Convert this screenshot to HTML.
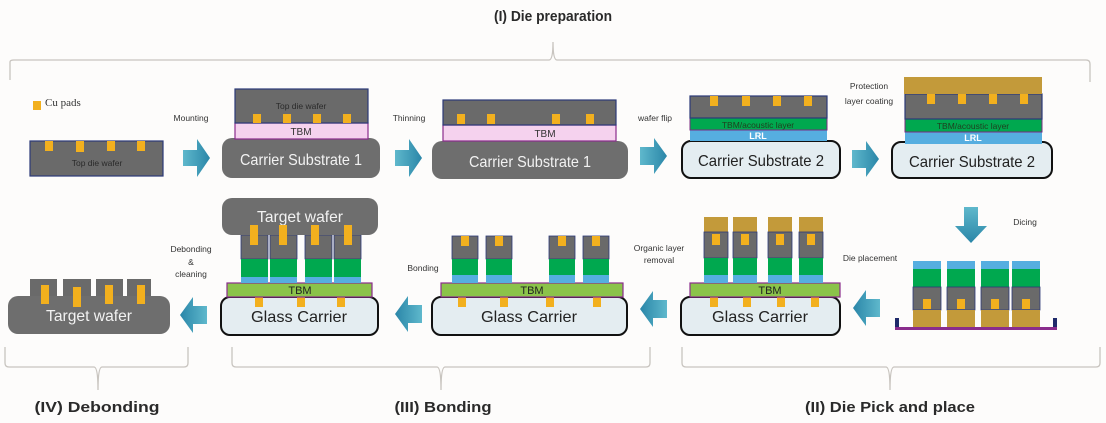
<!DOCTYPE html>
<html><head><meta charset="utf-8"><style>
html,body{margin:0;padding:0;background:#fdfcfb;}
svg{display:block;font-family:"Liberation Sans",sans-serif;}
</style></head><body>
<svg width="1106" height="423" viewBox="0 0 1106 423" xmlns="http://www.w3.org/2000/svg">
<defs>
<linearGradient id="ar" x1="0" y1="0" x2="1" y2="0"><stop offset="0" stop-color="#5fb8cc"/><stop offset="1" stop-color="#2a86a8"/></linearGradient>
<linearGradient id="al" x1="1" y1="0" x2="0" y2="0"><stop offset="0" stop-color="#5fb8cc"/><stop offset="1" stop-color="#2a86a8"/></linearGradient>
<linearGradient id="ad" x1="0" y1="0" x2="0" y2="1"><stop offset="0" stop-color="#5fb8cc"/><stop offset="1" stop-color="#2a86a8"/></linearGradient>
</defs>
<rect width="1106" height="423" fill="#fdfcfb"/>
<g fill="none" stroke="#c8c4bf" stroke-width="1.3">
<path d="M10 80 V62 Q10 60 14 60 H549 Q553 60 553 42 Q553 60 557 60 H1086 Q1090 60 1090 64 V82"/>
<path d="M5 347 V363 Q5 367 9 367 H94 Q98 367 98 390 Q98 367 102 367 H184 Q188 367 188 363 V347"/>
<path d="M232 347 V363 Q232 367 236 367 H437 Q441 367 441 390 Q441 367 445 367 H646 Q650 367 650 363 V347"/>
<path d="M682 347 V363 Q682 367 686 367 H886 Q890 367 890 390 Q890 367 894 367 H1096 Q1100 367 1100 363 V347"/>
</g>
<g font-weight="bold" font-size="15" fill="#2a2a2a" text-anchor="middle">
<text x="553" y="21" textLength="118" lengthAdjust="spacingAndGlyphs">(I) Die preparation</text>
<text x="97" y="412" textLength="125" lengthAdjust="spacingAndGlyphs">(IV) Debonding</text>
<text x="443" y="412" textLength="97" lengthAdjust="spacingAndGlyphs">(III) Bonding</text>
<text x="890" y="412" textLength="170" lengthAdjust="spacingAndGlyphs">(II) Die Pick and place</text>
</g>
<g>
<path d="M183 150 h14 v-11 l13 19 l-13 19 v-11 h-14 z" fill="url(#ar)"/>
<path d="M395 150 h14 v-11 l13 19 l-13 19 v-11 h-14 z" fill="url(#ar)"/>
<path d="M640 147 h14 v-9 l13 18 l-13 18 v-9 h-14 z" fill="url(#ar)"/>
<path d="M852 150 h14 v-9 l13 18 l-13 18 v-9 h-14 z" fill="url(#ar)"/>
<path d="M964 207 h14 v19 h9 l-16 17 l-16 -17 h9 z" fill="url(#ad)"/>
<path d="M880 299 h-14 v-9 l-13 18 l13 18 v-9 h14 z" fill="url(#al)"/>
<path d="M667 300 h-14 v-9 l-13 18 l13 18 v-9 h14 z" fill="url(#al)"/>
<path d="M422 305 h-14 v-9 l-13 18 l13 18 v-9 h14 z" fill="url(#al)"/>
<path d="M207 306 h-14 v-9 l-13 18 l13 18 v-9 h14 z" fill="url(#al)"/>
</g>
<g font-size="8.5" fill="#333" text-anchor="middle">
<text x="191" y="121">Mounting</text>
<text x="409" y="121">Thinning</text>
<text x="655" y="121">wafer flip</text>
<text x="869" y="89">Protection</text>
<text x="869" y="104">layer coating</text>
<text x="1025" y="225">Dicing</text>
<text x="870" y="261">Die placement</text>
<text x="659" y="251">Organic layer</text>
<text x="659" y="263">removal</text>
<text x="423" y="271">Bonding</text>
<text x="191" y="252">Debonding</text>
<text x="191" y="265">&amp;</text>
<text x="191" y="277">cleaning</text>
</g>
<rect x="33" y="101" width="8" height="9" fill="#f2b01e"/>
<text x="45" y="106" font-family="Liberation Serif,serif" font-size="11" fill="#333">Cu pads</text>
<!-- Stack 1 -->
<rect x="30" y="141" width="133" height="35" fill="#6a6a6a" stroke="#2c3a78" stroke-width="1.2"/>
<g fill="#f2b01e"><rect x="45" y="141" width="8" height="10"/><rect x="76" y="141" width="8" height="11"/><rect x="107" y="141" width="8" height="10"/><rect x="137" y="141" width="8" height="10"/></g>
<text x="97" y="166" font-size="8.5" fill="#2a2a2a" text-anchor="middle">Top die wafer</text>
<!-- Stack 2 -->
<rect x="222" y="138" width="158" height="40" rx="10" fill="#6e6e6e"/>
<text x="301" y="165" font-size="16" fill="#f2f2f2" text-anchor="middle" textLength="122" lengthAdjust="spacingAndGlyphs">Carrier Substrate 1</text>
<rect x="235" y="123" width="133" height="16" fill="#f5d2ee" stroke="#8a2c8c" stroke-width="1.2"/>
<text x="301" y="135" font-size="10" fill="#333" text-anchor="middle">TBM</text>
<rect x="235" y="89" width="133" height="34" fill="#6a6a6a" stroke="#2c3a78" stroke-width="1.2"/>
<g fill="#f2b01e"><rect x="253" y="114" width="8" height="9"/><rect x="283" y="114" width="8" height="9"/><rect x="313" y="114" width="8" height="9"/><rect x="343" y="114" width="8" height="9"/></g>
<text x="301" y="109" font-size="8.5" fill="#2a2a2a" text-anchor="middle">Top die wafer</text>
<!-- Stack 3 -->
<rect x="432" y="141" width="196" height="38" rx="10" fill="#6e6e6e"/>
<text x="530" y="167" font-size="16" fill="#f2f2f2" text-anchor="middle" textLength="122" lengthAdjust="spacingAndGlyphs">Carrier Substrate 1</text>
<rect x="443" y="125" width="173" height="16" fill="#f5d2ee" stroke="#8a2c8c" stroke-width="1.2"/>
<text x="545" y="137" font-size="10" fill="#333" text-anchor="middle">TBM</text>
<rect x="443" y="100" width="173" height="25" fill="#6a6a6a" stroke="#2c3a78" stroke-width="1.2"/>
<g fill="#f2b01e"><rect x="457" y="114" width="8" height="10"/><rect x="487" y="114" width="8" height="10"/><rect x="552" y="114" width="8" height="10"/><rect x="586" y="114" width="8" height="10"/></g>
<!-- Stack 4 -->
<rect x="682" y="141" width="158" height="37" rx="9" fill="#e4edf1" stroke="#111" stroke-width="2"/>
<text x="761" y="166" font-size="16" fill="#222" text-anchor="middle" textLength="126" lengthAdjust="spacingAndGlyphs">Carrier Substrate 2</text>
<rect x="690" y="130" width="137" height="11" fill="#56aee0"/>
<text x="758" y="139" font-size="9" font-weight="bold" fill="#fff" text-anchor="middle">LRL</text>
<rect x="690" y="118" width="137" height="12" fill="#00a84f" stroke="#7a2c82" stroke-width="1"/>
<text x="758" y="128" font-size="8.5" fill="#1f3f1f" text-anchor="middle">TBM/acoustic layer</text>
<rect x="690" y="96" width="137" height="22" fill="#6a6a6a" stroke="#2c3a78" stroke-width="1.2"/>
<g fill="#f2b01e"><rect x="710" y="96" width="8" height="10"/><rect x="742" y="96" width="8" height="10"/><rect x="773" y="96" width="8" height="10"/><rect x="804" y="96" width="8" height="10"/></g>
<!-- Stack 5 -->
<rect x="892" y="142" width="160" height="36" rx="9" fill="#e4edf1" stroke="#111" stroke-width="2"/>
<text x="972" y="167" font-size="16" fill="#222" text-anchor="middle" textLength="126" lengthAdjust="spacingAndGlyphs">Carrier Substrate 2</text>
<rect x="905" y="132" width="137" height="12" fill="#56aee0"/>
<text x="973" y="141" font-size="9" font-weight="bold" fill="#fff" text-anchor="middle">LRL</text>
<rect x="905" y="119" width="137" height="13" fill="#00a84f" stroke="#7a2c82" stroke-width="1"/>
<text x="973" y="129" font-size="8.5" fill="#1f3f1f" text-anchor="middle">TBM/acoustic layer</text>
<rect x="905" y="94" width="137" height="25" fill="#6a6a6a" stroke="#2c3a78" stroke-width="1.2"/>
<rect x="904" y="77" width="138" height="17" fill="#c39a3a"/>
<g fill="#f2b01e"><rect x="927" y="94" width="8" height="10"/><rect x="958" y="94" width="8" height="10"/><rect x="989" y="94" width="8" height="10"/><rect x="1020" y="94" width="8" height="10"/></g>
<!-- Diced dies -->
<rect x="895" y="318" width="4" height="12" fill="#1f2a6a"/>
<rect x="1053" y="318" width="4" height="12" fill="#1f2a6a"/>
<rect x="895" y="327" width="162" height="3" fill="#8a2c8c"/>
<g id="dc">
<rect x="913" y="261" width="28" height="8" fill="#56aee0"/>
<rect x="913" y="269" width="28" height="18" fill="#00a84f"/>
<rect x="913" y="287" width="28" height="23" fill="#6a6a6a" stroke="#2c3a78" stroke-width="0.8"/>
<rect x="913" y="310" width="28" height="17" fill="#c39a3a"/>
<rect x="923" y="299" width="8" height="10" fill="#f2b01e"/>
</g>
<use href="#dc" x="34"/><use href="#dc" x="68"/><use href="#dc" x="99"/>
<!-- Row2 stack A -->
<rect x="681" y="297" width="159" height="38" rx="9" fill="#e4edf1" stroke="#111" stroke-width="2"/>
<text x="760" y="322" font-size="16" fill="#222" text-anchor="middle" textLength="96" lengthAdjust="spacingAndGlyphs">Glass Carrier</text>
<g fill="#f2b01e"><rect x="710" y="297" width="8" height="10"/><rect x="743" y="297" width="8" height="10"/><rect x="777" y="297" width="8" height="10"/><rect x="811" y="297" width="8" height="10"/></g>
<rect x="690" y="283" width="150" height="14" fill="#8bc34a" stroke="#8a2c8c" stroke-width="1.2"/>
<text x="770" y="294" font-size="11" fill="#222" text-anchor="middle">TBM</text>
<g id="da">
<rect x="704" y="217" width="24" height="15" fill="#c39a3a"/>
<rect x="704" y="232" width="24" height="26" fill="#6a6a6a" stroke="#2c3a78" stroke-width="0.8"/>
<rect x="712" y="234" width="8" height="11" fill="#f2b01e"/>
<rect x="704" y="258" width="24" height="17" fill="#00a84f"/>
<rect x="704" y="275" width="24" height="8" fill="#56aee0"/>
</g>
<use href="#da" x="29"/><use href="#da" x="64"/><use href="#da" x="95"/>
<!-- Row2 stack B -->
<rect x="432" y="297" width="195" height="38" rx="9" fill="#e4edf1" stroke="#111" stroke-width="2"/>
<text x="529" y="322" font-size="16" fill="#222" text-anchor="middle" textLength="96" lengthAdjust="spacingAndGlyphs">Glass Carrier</text>
<g fill="#f2b01e"><rect x="458" y="297" width="8" height="10"/><rect x="500" y="297" width="8" height="10"/><rect x="546" y="297" width="8" height="10"/><rect x="593" y="297" width="8" height="10"/></g>
<rect x="441" y="283" width="182" height="14" fill="#8bc34a" stroke="#8a2c8c" stroke-width="1.2"/>
<text x="532" y="294" font-size="11" fill="#222" text-anchor="middle">TBM</text>
<g id="db">
<rect x="452" y="236" width="26" height="23" fill="#6a6a6a" stroke="#2c3a78" stroke-width="0.8"/>
<rect x="461" y="236" width="8" height="10" fill="#f2b01e"/>
<rect x="452" y="259" width="26" height="16" fill="#00a84f"/>
<rect x="452" y="275" width="26" height="8" fill="#56aee0"/>
</g>
<use href="#db" x="34"/><use href="#db" x="97"/><use href="#db" x="131"/>
<!-- Row2 stack C -->
<rect x="221" y="297" width="157" height="38" rx="9" fill="#e4edf1" stroke="#111" stroke-width="2"/>
<text x="299" y="322" font-size="16" fill="#222" text-anchor="middle" textLength="96" lengthAdjust="spacingAndGlyphs">Glass Carrier</text>
<g fill="#f2b01e"><rect x="255" y="297" width="8" height="10"/><rect x="297" y="297" width="8" height="10"/><rect x="337" y="297" width="8" height="10"/></g>
<rect x="227" y="283" width="145" height="14" fill="#8bc34a" stroke="#8a2c8c" stroke-width="1.2"/>
<text x="300" y="294" font-size="11" fill="#222" text-anchor="middle">TBM</text>
<g id="dd">
<rect x="241" y="235" width="27" height="24" fill="#6a6a6a" stroke="#2c3a78" stroke-width="0.8"/>
<rect x="241" y="259" width="27" height="18" fill="#00a84f"/>
<rect x="241" y="277" width="27" height="6" fill="#56aee0"/>
</g>
<use href="#dd" x="29"/><use href="#dd" x="64"/><use href="#dd" x="93"/>
<rect x="222" y="198" width="156" height="37" rx="10" fill="#6e6e6e"/>
<text x="300" y="222" font-size="16" fill="#f2f2f2" text-anchor="middle" textLength="86" lengthAdjust="spacingAndGlyphs">Target wafer</text>
<g fill="#f2b01e"><rect x="250" y="225" width="8" height="20"/><rect x="279" y="225" width="8" height="20"/><rect x="311" y="225" width="8" height="20"/><rect x="344" y="225" width="8" height="20"/></g>
<!-- Row2 final -->
<g fill="#6a6a6a"><rect x="30" y="279" width="27" height="18"/><rect x="63" y="279" width="28" height="18"/><rect x="96" y="279" width="27" height="18"/><rect x="127" y="279" width="24" height="18"/></g>
<rect x="8" y="296" width="162" height="38" rx="10" fill="#6e6e6e"/>
<text x="89" y="321" font-size="16" fill="#f2f2f2" text-anchor="middle" textLength="86" lengthAdjust="spacingAndGlyphs">Target wafer</text>
<g fill="#f2b01e"><rect x="41" y="285" width="8" height="19"/><rect x="73" y="287" width="8" height="20"/><rect x="105" y="285" width="8" height="19"/><rect x="137" y="285" width="8" height="19"/></g>
</svg>
</body></html>
